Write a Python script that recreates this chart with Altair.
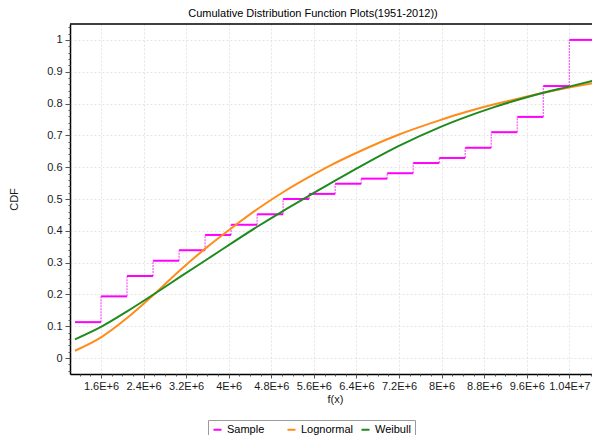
import altair as alt
import pandas as pd

# ---- data ----
# empirical CDF (Sample): step start positions and levels
step_x = [1.111e6, 1.600e6, 2.089e6, 2.578e6, 3.067e6, 3.556e6, 4.044e6, 4.533e6,
          5.022e6, 5.511e6, 6.000e6, 6.489e6, 6.978e6, 7.467e6, 7.956e6, 8.444e6,
          8.933e6, 9.422e6, 9.911e6, 10.400e6]
step_end = 10.9e6
step_y = [0.113, 0.194, 0.258, 0.306, 0.339, 0.387, 0.419, 0.452, 0.500, 0.516,
          0.548, 0.564, 0.581, 0.613, 0.629, 0.661, 0.710, 0.758, 0.855, 1.000]

logn_x = [1.111e6, 1.600e6, 2.083e6, 2.615e6, 3.085e6, 3.587e6, 4.087e6, 4.527e6,
          5.027e6, 5.529e6, 5.905e6, 6.374e6, 7.189e6, 7.972e6, 8.348e6, 8.974e6,
          9.602e6, 9.914e6, 10.416e6, 10.83e6]
logn_y = [0.023, 0.065, 0.125, 0.203, 0.276, 0.348, 0.413, 0.467, 0.522, 0.571,
          0.605, 0.643, 0.702, 0.748, 0.768, 0.797, 0.822, 0.834, 0.851, 0.864]

weib_x = [1.111e6, 1.600e6, 2.083e6, 2.615e6, 3.085e6, 3.617e6, 4.527e6, 5.027e6,
          5.529e6, 6.000e6, 6.374e6, 7.189e6, 7.972e6, 8.348e6, 8.974e6, 9.602e6,
          9.914e6, 10.416e6, 10.83e6]
weib_y = [0.059, 0.098, 0.146, 0.203, 0.255, 0.313, 0.412, 0.463, 0.512, 0.558,
          0.593, 0.666, 0.726, 0.751, 0.788, 0.820, 0.834, 0.854, 0.871]

series_names = ["Sample", "Lognormal", "Weibull"]
series_colors = ["#FF00FF", "#FF8C1A", "#1F8A1F"]

x_ticks = [1.6e6, 2.4e6, 3.2e6, 4.0e6, 4.8e6, 5.6e6, 6.4e6, 7.2e6, 8.0e6, 8.8e6, 9.6e6, 10.4e6]
x_tick_labels = ["1.6E+6", "2.4E+6", "3.2E+6", "4E+6", "4.8E+6", "5.6E+6", "6.4E+6",
                 "7.2E+6", "8E+6", "8.8E+6", "9.6E+6", "1.04E+7"]
y_ticks = [0, 0.1, 0.2, 0.3, 0.4, 0.5, 0.6, 0.7, 0.8, 0.9, 1.0]
x_minor = [round(1.2e6 + 0.2e6 * i) for i in range(49)]
y_minor = [round(-0.04 + 0.02 * i, 2) for i in range(55)]

# ---- tables ----
h_rows = []
v_rows = []
for i, (x0, lvl) in enumerate(zip(step_x, step_y)):
    x1 = step_x[i + 1] if i + 1 < len(step_x) else step_end
    h_rows.append({"x": x0, "x2": x1, "y": lvl, "series": "Sample"})
    if i + 1 < len(step_x):
        v_rows.append({"x": x1, "y": lvl, "y2": step_y[i + 1]})
df_h = pd.DataFrame(h_rows)
df_v = pd.DataFrame(v_rows)
df_c = pd.concat([
    pd.DataFrame({"x": logn_x, "y": logn_y, "series": "Lognormal"}),
    pd.DataFrame({"x": weib_x, "y": weib_y, "series": "Weibull"}),
], ignore_index=True)

FONT = "Liberation Sans"
W, H = 522, 350

xs = alt.Scale(domain=[1.0175e6, 10.8265e6], nice=False, zero=False)
ys = alt.Scale(domain=[-0.05, 1.05], nice=False, zero=False)

label_expr = "[" + ",".join("'%s'" % s for s in x_tick_labels) + "][indexof([" + \
    ",".join(str(int(v)) for v in x_ticks) + "], datum.value)]"

x_axis = alt.Axis(values=x_ticks, labelExpr=label_expr, title="f(x)", grid=True,
                  gridColor="#e4e4e4", gridDash=[2, 2], tickSize=4, tickColor="#555555",
                  domainColor="black", domainWidth=1.5, labelFont=FONT, labelFontSize=11,
                  labelColor="#1a1a1a", labelPadding=2, labelFlush=False, labelOverlap=False,
                  titleFont=FONT, titleFontSize=11, titleFontWeight="normal",
                  titleColor="#1a1a1a", titleX=265, titleY=25, titleBaseline="middle")
y_axis = alt.Axis(values=y_ticks, format="~g", title="CDF", grid=True,
                  gridColor="#e4e4e4", gridDash=[2, 2], tickSize=5, tickColor="#555555",
                  domainColor="black", domainWidth=1.5, labelFont=FONT, labelFontSize=11,
                  labelColor="#1a1a1a", labelPadding=3, labelFlush=False, labelOverlap=False,
                  titleFont=FONT, titleFontSize=11, titleFontWeight="normal",
                  titleColor="#1a1a1a", titleX=-56, titleY=175, titleAlign="center",
                  titleBaseline="middle")

cs = alt.Scale(domain=series_names, range=series_colors)
leg = alt.Legend(title=None, orient="none", legendX=138, legendY=396, direction="horizontal",
                 columns=3, gridAlign="all", columnPadding=4, symbolType="stroke",
                 symbolSize=64, symbolStrokeWidth=2, labelFont=FONT, labelFontSize=11,
                 labelColor="black", labelOffset=4, strokeColor="#9a9a9a", fillColor="white",
                 padding=4)

steps_h = alt.Chart(df_h).mark_rule(strokeWidth=2, clip=True).encode(
    x=alt.X("x:Q", scale=xs, axis=x_axis),
    x2="x2:Q",
    y=alt.Y("y:Q", scale=ys, axis=y_axis),
    color=alt.Color("series:N", scale=cs, legend=leg),
)
steps_v = alt.Chart(df_v).mark_rule(strokeWidth=1.2, strokeDash=[2, 1], stroke="#FF55FF",
                                    clip=True).encode(
    x=alt.X("x:Q", scale=xs, axis=x_axis),
    y=alt.Y("y:Q", scale=ys, axis=y_axis),
    y2="y2:Q",
)
curves = alt.Chart(df_c).mark_line(strokeWidth=2, interpolate="monotone", clip=True).encode(
    x=alt.X("x:Q", scale=xs, axis=x_axis),
    y=alt.Y("y:Q", scale=ys, axis=y_axis),
    color=alt.Color("series:N", scale=cs, legend=leg),
)
top_border = alt.Chart(pd.DataFrame({"a": [0]})).mark_rule(color="black", strokeWidth=1.5).encode(
    x=alt.value(0), x2=alt.value(W), y=alt.value(0)
)

main = alt.layer(steps_v, steps_h, curves, top_border)

minor = alt.Chart(df_c).mark_point(opacity=0).encode(
    x=alt.X("x:Q", scale=xs, axis=alt.Axis(values=x_minor, orient="bottom", labels=False,
                                           grid=False, domain=False, title=None, tickSize=2,
                                           tickColor="#555555")),
    y=alt.Y("y:Q", scale=ys, axis=alt.Axis(values=y_minor, orient="left", labels=False,
                                           grid=False, domain=False, title=None, tickSize=2,
                                           tickColor="#555555")),
)

chart = alt.layer(main, minor).resolve_axis(x="independent", y="independent").properties(
    width=W, height=H,
    autosize=alt.AutoSizeParams(type="none"),
    padding={"left": 70, "top": 24, "right": 0, "bottom": 61},
    title=alt.TitleParams("Cumulative Distribution Function Plots(1951-2012))", font=FONT,
                          fontSize=11, fontWeight="normal", color="black", anchor="middle",
                          dx=-18, offset=4),
).configure_view(stroke=None)

chart.save("out.html", embed_options={"renderer": "svg", "actions": False})
